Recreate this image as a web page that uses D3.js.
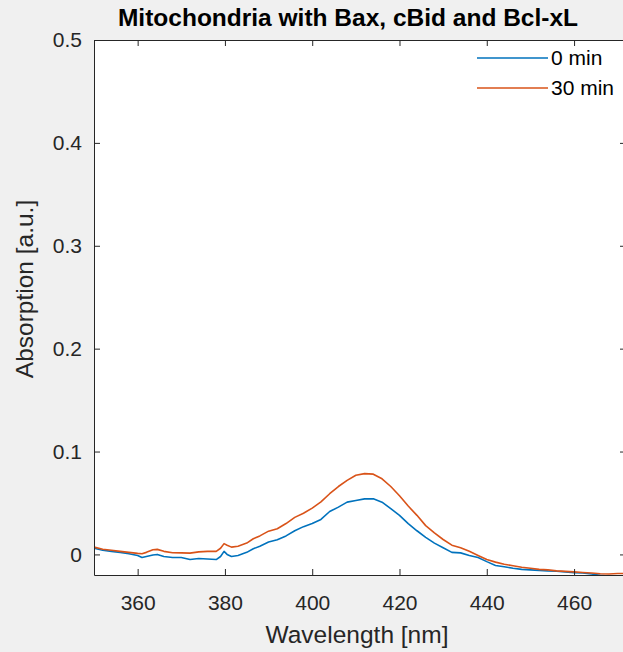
<!DOCTYPE html>
<html>
<head>
<meta charset="utf-8">
<script src="https://cdn.jsdelivr.net/npm/d3@7"></script>
<style>
  html, body { margin: 0; padding: 0; background: #f0f0f0; }
  svg { display: block; font-family: "Liberation Sans", Arial, sans-serif; }
</style>
</head>
<body>
<div class="container"></div>
<script>
// wavelength grid (nm) shared by both spectra
const wavelengths = [350, 352, 354, 356, 358, 360, 361, 362, 363.5, 364.5, 366, 368, 370, 372, 374, 376, 378,
  379, 379.8, 380.5, 381.5, 383, 385, 386.5, 388, 390, 392, 394, 396, 398, 400, 402, 404, 406, 408, 410,
  412, 414, 416, 418, 420, 422, 424, 426, 428, 430, 432, 434, 436, 438, 440, 442, 444, 446, 448, 450,
  452, 454, 456, 458, 460, 462, 464, 466, 468, 470, 472];

const min0 = [0.006, 0.004, 0.003, 0.002, 0.0007, -0.001, -0.003, -0.002, -0.0005, 0.0, -0.002, -0.003, -0.003,
  -0.005, -0.004, -0.0045, -0.005, -0.002, 0.003, 0.0, -0.002, -0.001, 0.002, 0.0055, 0.008, 0.012, 0.0143,
  0.018, 0.023, 0.027, 0.030, 0.034, 0.0417, 0.046, 0.0508, 0.0524, 0.054, 0.054, 0.0508, 0.0445, 0.038,
  0.030, 0.023, 0.0165, 0.011, 0.0065, 0.002, 0.0015, -0.001, -0.003, -0.007, -0.0107, -0.012, -0.0135,
  -0.0145, -0.015, -0.0155, -0.016, -0.0163, -0.017, -0.0177, -0.018, -0.019, -0.0204, -0.021, -0.022, -0.022];

const min30 = [0.0071, 0.005, 0.004, 0.003, 0.002, 0.001, 0.0007, 0.002, 0.0045, 0.0049, 0.003, 0.0016, 0.0015,
  0.0013, 0.0025, 0.003, 0.003, 0.006, 0.0105, 0.009, 0.0071, 0.008, 0.011, 0.0152, 0.018, 0.0226, 0.025,
  0.030, 0.036, 0.040, 0.045, 0.051, 0.059, 0.066, 0.072, 0.077, 0.0785, 0.078, 0.0735, 0.066, 0.057,
  0.047, 0.038, 0.028, 0.021, 0.0145, 0.009, 0.0065, 0.003, -0.001, -0.005, -0.0075, -0.0095, -0.011,
  -0.0125, -0.0135, -0.0145, -0.015, -0.016, -0.0165, -0.017, -0.0175, -0.018, -0.0188, -0.019, -0.0185, -0.0185];

const seriesNames = ['0 min', '30 min'];
const xTicks = [360, 380, 400, 420, 440, 460];
const yTicks = [0, 0.1, 0.2, 0.3, 0.4, 0.5];

const width = 623;
const height = 652;
const m = { left: 94, right: 626, top: 40, bottom: 575 };
const colors = ['#0072BD', '#D95319'];
const ink = '#262626';

const xScale = d3.scaleLinear().domain([350, 471.9]).range([m.left, m.right]);
const yScale = d3.scaleLinear().domain([-0.02, 0.5]).range([m.bottom, m.top]);

const svg = d3.select('.container')
  .append('svg')
  .attr('width', width)
  .attr('height', height);

svg.append('defs').append('clipPath').attr('id', 'plot')
  .append('rect')
  .attr('x', m.left).attr('y', m.top)
  .attr('width', m.right - m.left).attr('height', m.bottom - m.top);

// white plot area
svg.append('rect')
  .attr('x', m.left).attr('y', m.top)
  .attr('width', m.right - m.left).attr('height', m.bottom - m.top)
  .attr('fill', '#fff');

// spectra
const line = d3.line()
  .x((d, i) => xScale(wavelengths[i]))
  .y(d => yScale(d));

[min0, min30].forEach((s, k) => {
  svg.append('path')
    .datum(s)
    .attr('clip-path', 'url(#plot)')
    .attr('fill', 'none')
    .attr('stroke', colors[k])
    .attr('stroke-width', 1.6)
    .attr('stroke-linejoin', 'round')
    .attr('d', line);
});

// axes, ticks pointing inwards like MATLAB
const tick = 6;
const styleAxis = g => {
  g.selectAll('path.domain').attr('stroke', ink);
  g.selectAll('.tick line').attr('stroke', ink);
  g.selectAll('.tick text').attr('fill', ink).attr('font-size', 21);
};

svg.append('g')
  .attr('transform', `translate(0, ${m.bottom})`)
  .call(d3.axisBottom(xScale).tickValues(xTicks).tickSizeInner(-tick).tickSizeOuter(0).tickPadding(20))
  .call(styleAxis);

svg.append('g')
  .attr('transform', `translate(0, ${m.top})`)
  .call(d3.axisTop(xScale).tickValues(xTicks).tickSizeInner(-tick).tickSizeOuter(0).tickFormat(''))
  .call(styleAxis);

svg.append('g')
  .attr('transform', `translate(${m.left}, 0)`)
  .call(d3.axisLeft(yScale).tickValues(yTicks).tickSizeInner(-tick).tickSizeOuter(0).tickPadding(12)
    .tickFormat(d => d === 0 ? '0' : d3.format('.1f')(d)))
  .call(styleAxis);

svg.append('g')
  .attr('transform', `translate(${m.right}, 0)`)
  .call(d3.axisRight(yScale).tickValues(yTicks).tickSizeInner(-tick).tickSizeOuter(0).tickFormat(''))
  .call(styleAxis);

// labels
svg.append('text')
  .attr('x', 348).attr('y', 26)
  .attr('text-anchor', 'middle')
  .attr('font-size', 24.5).attr('font-weight', 'bold')
  .attr('fill', '#000')
  .text('Mitochondria with Bax, cBid and Bcl-xL');

svg.append('text')
  .attr('x', 357).attr('y', 643)
  .attr('text-anchor', 'middle')
  .attr('font-size', 24.5)
  .attr('fill', ink)
  .text('Wavelength [nm]');

svg.append('text')
  .attr('transform', 'translate(33, 289) rotate(-90)')
  .attr('text-anchor', 'middle')
  .attr('font-size', 24.5)
  .attr('fill', ink)
  .text('Absorption [a.u.]');

// legend (no box)
const legend = svg.append('g');
seriesNames.forEach((name, k) => {
  const y = 58 + k * 30;
  legend.append('line')
    .attr('x1', 477).attr('x2', 548)
    .attr('y1', y).attr('y2', y)
    .attr('stroke', colors[k]).attr('stroke-width', 1.6);
  legend.append('text')
    .attr('x', 551).attr('y', y + 7)
    .attr('font-size', 21)
    .attr('fill', '#000')
    .text(name);
});
</script>
</body>
</html>
